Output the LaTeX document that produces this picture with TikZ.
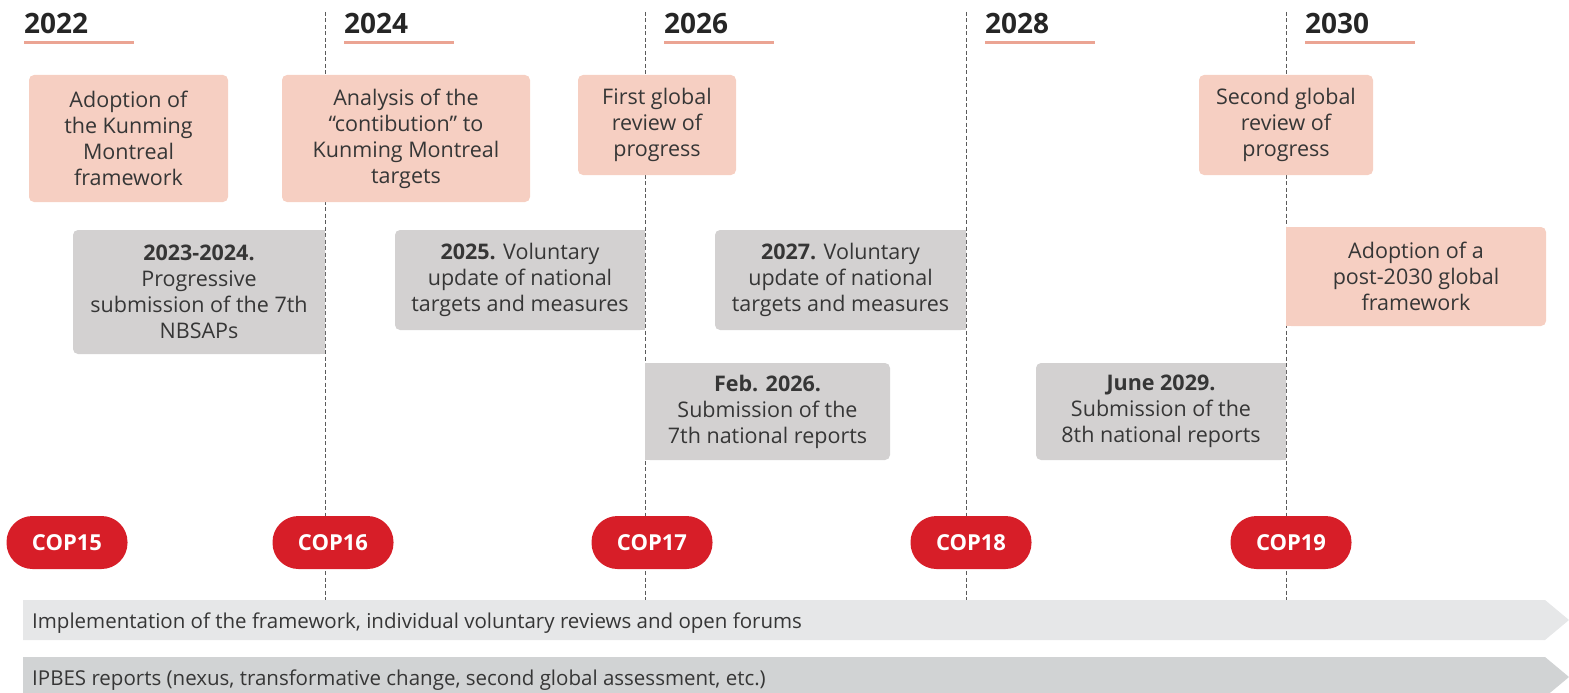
\documentclass[tikz,border=0pt]{standalone}
\usepackage{fontspec}
\setmainfont{Open Sans}
\definecolor{pinkfill}{HTML}{F6CFC2}
\definecolor{grayfill}{HTML}{D3D1D1}
\definecolor{ulinecol}{HTML}{EBA493}
\definecolor{copred}{HTML}{D71E28}
\definecolor{barlight}{HTML}{E6E7E8}
\definecolor{bardark}{HTML}{D1D3D4}
\definecolor{txtcol}{HTML}{363636}
\definecolor{dashcol}{HTML}{5A5A5A}
\begin{document}
\begin{tikzpicture}[x=1pt,y=-1pt,
  boxtext/.style={align=center,text=txtcol,inner sep=0pt,font=\fontsize{21.5}{26}\selectfont},
  pinkbox/.style={boxtext,fill=pinkfill,rounded corners=5pt},
  graybox/.style={boxtext,fill=grayfill,rounded corners=5pt},
  yearlabel/.style={anchor=base west,inner sep=0pt,text=txtcol!70!black,font=\fontsize{28}{30}\selectfont\bfseries},
  yearline/.style={draw=ulinecol,line width=3pt},
  tline/.style={draw=dashcol,line width=0.9pt,dash pattern=on 4pt off 2.5pt},
  pill/.style={fill=copred,text=white,rounded corners=26pt,minimum width=121pt,minimum height=53pt,inner sep=0pt,font=\fontsize{22}{24}\selectfont\bfseries},
  bartext/.style={anchor=base west,inner sep=0pt,text=txtcol,font=\fontsize{20.5}{22}\selectfont}]
\useasboundingbox (0,0) rectangle (1569,693);

% timeline dashed lines
\foreach \x/\n in {325/a,645/b,966/c,1286/d}{
  \coordinate (top\n) at (\x,12);
  \coordinate (bot\n) at (\x,600);
  \draw[tline] (top\n) -- (bot\n);
}

% years
\foreach \x/\y in {24/2022,344/2024,664/2026,985/2028,1305/2030}{
  \node[yearlabel] (y\y) at (\x,34) {\y};
  \coordinate (ul\y) at (\x,43);
  \coordinate (ur\y) at (\x+110,43);
  \draw[yearline] (ul\y) -- (ur\y);
}

% pink boxes
\node[pinkbox,minimum width=199pt,minimum height=127pt] (p1) at (128.5,138.5)
  {Adoption of\\the Kunming\\Montreal\\framework};
\node[pinkbox,minimum width=248pt,minimum height=127pt] (p2) at (406,138.5)
  {Analysis of the\\“contibution” to\\Kunming Montreal\\targets};
\node[pinkbox,minimum width=158pt,minimum height=100pt] (p3) at (657,125)
  {First global\\review of\\progress};
\node[pinkbox,minimum width=174pt,minimum height=100pt] (p4) at (1286,125)
  {Second global\\review of\\progress};
\node[pinkbox,minimum width=260pt,minimum height=99pt] (p5) at (1416,276.5)
  {Adoption of a\\post-2030 global\\framework};

% gray boxes
\node[graybox,minimum width=252pt,minimum height=124pt] (g1) at (199,292)
  {\textbf{2023-2024.}\\Progressive\\submission of the 7th\\NBSAPs};
\node[graybox,minimum width=250pt,minimum height=100pt] (g2) at (520,280)
  {\textbf{2025.} Voluntary\\update of national\\targets and measures};
\node[graybox,minimum width=251pt,minimum height=100pt] (g3) at (840.5,280)
  {\textbf{2027.} Voluntary\\update of national\\targets and measures};
\node[graybox,minimum width=245pt,minimum height=97pt] (g4) at (767.5,411.5)
  {\textbf{Feb. 2026.}\\Submission of the\\7th national reports};
\node[graybox,minimum width=250pt,minimum height=97pt] (g5) at (1161,411.5)
  {\textbf{June 2029.}\\Submission of the\\8th national reports};

% square corners on the sides that meet a timeline
\foreach \b in {g1,g2,g3,g5}{
  \fill[grayfill] ([xshift=-6pt,yshift=-6pt]\b.north east) rectangle (\b.north east);
  \fill[grayfill] ([xshift=-6pt,yshift=6pt]\b.south east) rectangle (\b.south east);
}
\fill[grayfill] (g4.north west) rectangle ([xshift=6pt,yshift=-6pt]g4.north west);
\fill[grayfill] (g4.south west) rectangle ([xshift=6pt,yshift=6pt]g4.south west);
\fill[pinkfill] (p5.north west) rectangle ([xshift=6pt,yshift=-6pt]p5.north west);
\fill[pinkfill] (p5.south west) rectangle ([xshift=6pt,yshift=6pt]p5.south west);

% COP pills
\node[pill] (cop15) at (67,542.5) {COP15};
\node[pill] (cop16) at (333,542.5) {COP16};
\node[pill] (cop17) at (652,542.5) {COP17};
\node[pill] (cop18) at (971,542.5) {COP18};
\node[pill] (cop19) at (1291,542.5) {COP19};

% bars
\fill[barlight] (23,600) -- (1545,600) -- (1569,620) -- (1545,640) -- (23,640) -- cycle;
\fill[bardark] (23,657) -- (1545,657) -- (1569,677) -- (1545,697) -- (23,697) -- cycle;
\node[bartext] (bar1) at (32,628) {Implementation of the framework, individual voluntary reviews and open forums};
\node[bartext] (bar2) at (32,685) {IPBES reports (nexus, transformative change, second global assessment, etc.)};
\end{tikzpicture}
\end{document}
